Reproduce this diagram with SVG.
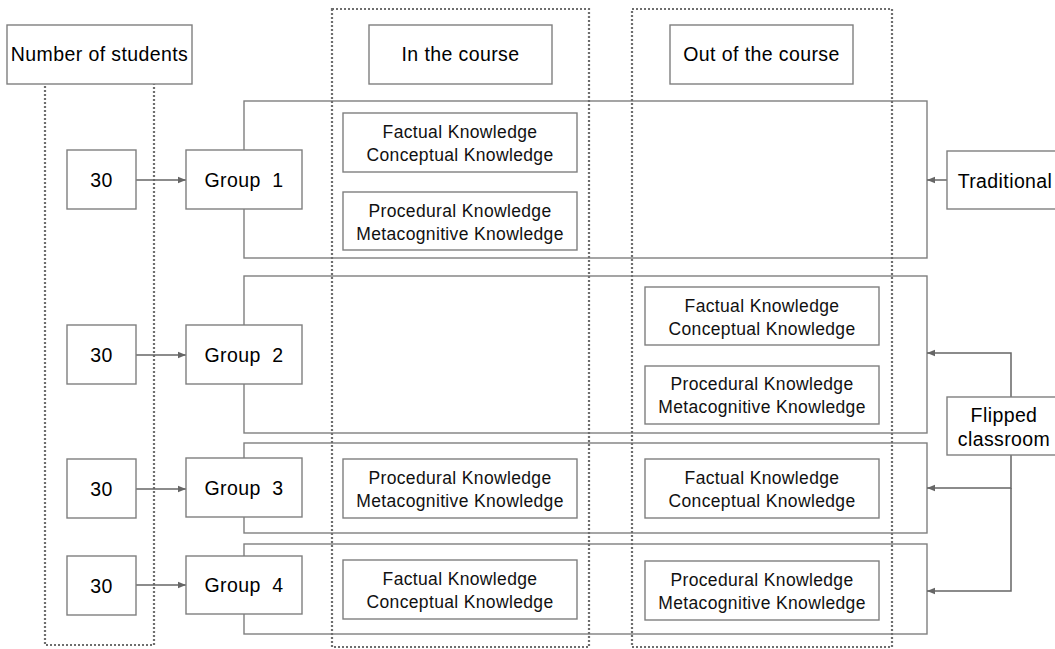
<svg xmlns="http://www.w3.org/2000/svg" width="1055" height="649" viewBox="0 0 1055 649">
<style>
.box{fill:#fff;stroke:#7f7f7f;stroke-width:1.4}
.row{fill:none;stroke:#7f7f7f;stroke-width:1.4}
.dot{fill:none;stroke:#6e6e6e;stroke-width:2.2;stroke-dasharray:2 2}
.t{font-family:"Liberation Sans",Arial,sans-serif;font-size:19.5px;letter-spacing:0.4px;fill:#000;text-anchor:middle}
.k{font-family:"Liberation Sans",Arial,sans-serif;font-size:17.5px;letter-spacing:0.35px;fill:#111;text-anchor:middle}
.c{fill:none;stroke:#666;stroke-width:1.5}
</style>
<defs>
<marker id="ah" viewBox="0 0 10 10" refX="10" refY="5" markerWidth="8" markerHeight="8" markerUnits="userSpaceOnUse" orient="auto">
<path d="M0,1 L10,5 L0,9 Z" fill="#666"/>
</marker>
</defs>

<g id="rows">
<rect class="row" x="244" y="101" width="683" height="157"/>
<rect class="row" x="244" y="276" width="683" height="157"/>
<rect class="row" x="244" y="443" width="683" height="90"/>
<rect class="row" x="244" y="544" width="683" height="90"/>
</g>

<g id="columns">
<rect class="dot" x="45" y="60" width="109" height="585"/>
<rect class="dot" x="332" y="9" width="257" height="638"/>
<rect class="dot" x="632" y="9" width="260" height="638"/>
</g>

<g id="connectors">
<line class="c" x1="136" y1="180" x2="186" y2="180" marker-end="url(#ah)"/>
<line class="c" x1="136" y1="355" x2="186" y2="355" marker-end="url(#ah)"/>
<line class="c" x1="136" y1="489" x2="186" y2="489" marker-end="url(#ah)"/>
<line class="c" x1="136" y1="585" x2="186" y2="585" marker-end="url(#ah)"/>
<line class="c" x1="947" y1="180" x2="927" y2="180" marker-end="url(#ah)"/>
<polyline class="c" points="1011,397 1011,353 927,353" marker-end="url(#ah)"/>
<polyline class="c" points="1011,455 1011,488 927,488" marker-end="url(#ah)"/>
<polyline class="c" points="1011,488 1011,591 927,591" marker-end="url(#ah)"/>
</g>

<g id="header-students"><rect class="box" x="7" y="25" width="185" height="59"/><text class="t" x="99.5" y="61">Number of students</text></g>
<g id="header-in"><rect class="box" x="369" y="25" width="183" height="59"/><text class="t" x="460.5" y="61">In the course</text></g>
<g id="header-out"><rect class="box" x="670" y="25" width="183" height="59"/><text class="t" x="761.5" y="61">Out of the course</text></g>

<g id="n1"><rect class="box" x="67" y="150" width="69" height="59"/><text class="t" x="101.5" y="187">30</text></g>
<g id="n2"><rect class="box" x="67" y="325" width="69" height="59"/><text class="t" x="101.5" y="362">30</text></g>
<g id="n3"><rect class="box" x="67" y="459" width="69" height="59"/><text class="t" x="101.5" y="496">30</text></g>
<g id="n4"><rect class="box" x="67" y="556" width="69" height="59"/><text class="t" x="101.5" y="593">30</text></g>

<g id="g1"><rect class="box" x="186" y="150" width="116" height="59"/><text class="t" x="244" y="187" xml:space="preserve">Group  1</text></g>
<g id="g2"><rect class="box" x="186" y="325" width="116" height="59"/><text class="t" x="244" y="362" xml:space="preserve">Group  2</text></g>
<g id="g3"><rect class="box" x="186" y="458" width="116" height="59"/><text class="t" x="244" y="495" xml:space="preserve">Group  3</text></g>
<g id="g4"><rect class="box" x="186" y="556" width="116" height="58"/><text class="t" x="244" y="592" xml:space="preserve">Group  4</text></g>

<g id="in1a"><rect class="box" x="343" y="113" width="234" height="59"/><text class="k" x="460" y="138">Factual Knowledge</text><text class="k" x="460" y="161">Conceptual Knowledge</text></g>
<g id="in1b"><rect class="box" x="343" y="192" width="234" height="58"/><text class="k" x="460" y="217">Procedural Knowledge</text><text class="k" x="460" y="240">Metacognitive Knowledge</text></g>
<g id="out2a"><rect class="box" x="645" y="287" width="234" height="58"/><text class="k" x="762" y="312">Factual Knowledge</text><text class="k" x="762" y="335">Conceptual Knowledge</text></g>
<g id="out2b"><rect class="box" x="645" y="366" width="234" height="58"/><text class="k" x="762" y="390">Procedural Knowledge</text><text class="k" x="762" y="413">Metacognitive Knowledge</text></g>
<g id="in3"><rect class="box" x="343" y="459" width="234" height="59"/><text class="k" x="460" y="484">Procedural Knowledge</text><text class="k" x="460" y="507">Metacognitive Knowledge</text></g>
<g id="out3"><rect class="box" x="645" y="459" width="234" height="59"/><text class="k" x="762" y="484">Factual Knowledge</text><text class="k" x="762" y="507">Conceptual Knowledge</text></g>
<g id="in4"><rect class="box" x="343" y="560" width="234" height="59"/><text class="k" x="460" y="585">Factual Knowledge</text><text class="k" x="460" y="608">Conceptual Knowledge</text></g>
<g id="out4"><rect class="box" x="645" y="561" width="234" height="59"/><text class="k" x="762" y="586">Procedural Knowledge</text><text class="k" x="762" y="609">Metacognitive Knowledge</text></g>

<g id="traditional"><rect class="box" x="947" y="151" width="116" height="58"/><text class="t" x="1005" y="188">Traditional</text></g>
<g id="flipped"><rect class="box" x="947" y="397" width="116" height="58"/><text class="t" x="1004" y="422">Flipped</text><text class="t" x="1004" y="446">classroom</text></g>
</svg>
